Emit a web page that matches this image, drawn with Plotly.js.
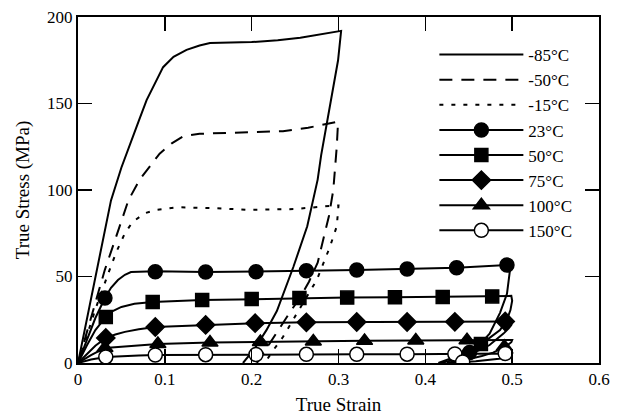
<!DOCTYPE html>
<html>
<head>
<meta charset="utf-8">
<script src="https://cdn.plot.ly/plotly-3.0.1.min.js"></script>
<style>html,body{margin:0;padding:0;background:#fff;}#chart{width:623px;height:418px;}</style>
</head>
<body>
<div id="chart"></div>
<script>
// Series labels
var seriesNames = ["-85°C", "-50°C", "-15°C", "23°C", "50°C", "75°C", "100°C", "150°C"];

// -85°C curve (loading + unloading)
var strainM85 = [0, 0.02, 0.038, 0.05, 0.06, 0.07, 0.079, 0.09, 0.098, 0.11, 0.125, 0.14, 0.152, 0.2, 0.23, 0.256, 0.28, 0.303,
                 0.2995, 0.29, 0.28, 0.276, 0.271, 0.264, 0.248, 0.229, 0.217, 0.203, 0.19];
var stressM85 = [0, 49, 94, 113, 127, 140, 152, 163, 171, 177, 181, 183.5, 185, 185.5, 186.5, 188, 190, 192,
                 175, 148, 120, 106, 94, 79, 55.5, 30, 19, 8, 0];

// -50°C curve
var strainM50 = [0, 0.031, 0.0426, 0.058, 0.071, 0.083, 0.094, 0.108, 0.121, 0.14, 0.179, 0.21, 0.236, 0.265, 0.2995,
                 0.298, 0.296, 0.294, 0.289, 0.283, 0.276, 0.266, 0.256, 0.245, 0.233, 0.22, 0.206];
var stressM50 = [0, 54, 71, 94, 106, 114, 121, 127, 131, 132.5, 133, 133.5, 134, 136, 139.5,
                 125, 110, 100, 85, 72, 58, 47, 38, 30, 21, 11, 0];

// -15°C curve
var strainM15 = [0, 0.02, 0.035, 0.044, 0.054, 0.063, 0.077, 0.089, 0.115, 0.153, 0.198, 0.25, 0.294, 0.3,
                 0.299, 0.298, 0.29, 0.275, 0.256, 0.236, 0.225, 0.215];
var stressM15 = [0, 31, 52, 64, 75, 81.6, 86.6, 88.4, 90, 89.6, 88.5, 89, 91, 91,
                 85, 79, 67, 48, 32, 15, 7.5, 0];

// 23°C curve and markers
var strain23 = [0, 0.01, 0.02, 0.031, 0.038, 0.046, 0.054, 0.061, 0.075, 0.089, 0.147, 0.205, 0.263, 0.321, 0.379, 0.436, 0.494,
                0.4975, 0.494, 0.486, 0.474, 0.459, 0.443, 0.428];
var stress23 = [0, 13, 26, 37.6, 43.5, 48, 51, 52.6, 53, 53, 52.6, 52.8, 53.3, 53.8, 54.3, 55, 56.6,
                53.8, 40, 29, 17, 8.7, 3.5, 0];
var markStrain23 = [0.031, 0.089, 0.147, 0.205, 0.263, 0.321, 0.379, 0.436, 0.494, 0.451];
var markStress23 = [37.6, 52.8, 52.6, 52.8, 53.3, 53.8, 54.3, 55, 56.6, 6.1];

// 50°C curve and markers
var strain50 = [0, 0.01, 0.02, 0.032, 0.04, 0.05, 0.065, 0.086, 0.143, 0.2, 0.255, 0.31, 0.365, 0.42, 0.477, 0.499,
                0.5, 0.498, 0.494, 0.486, 0.474, 0.459, 0.445, 0.432, 0.415];
var stress50 = [0, 10, 19, 26.6, 30, 32.4, 34.2, 35.3, 36.4, 37, 37.6, 37.8, 38, 38.2, 38.5, 38.8,
                36, 30.6, 25, 19, 14.5, 9.4, 5.5, 3, 0];
var markStrain50 = [0.032, 0.086, 0.143, 0.2, 0.255, 0.31, 0.365, 0.42, 0.477, 0.464];
var markStress50 = [26.6, 35.3, 36.4, 37, 37.6, 37.8, 38, 38.2, 38.5, 11];

// 75°C curve and markers
var strain75 = [0, 0.01, 0.02, 0.032, 0.043, 0.054, 0.07, 0.089, 0.147, 0.204, 0.263, 0.321, 0.379, 0.434, 0.492, 0.5,
                0.499, 0.496, 0.49, 0.482, 0.474, 0.465, 0.455, 0.443, 0.432, 0.418];
var stress75 = [0, 5, 10, 14.5, 16.5, 18, 19.5, 20.8, 22, 23, 23.5, 23.7, 23.7, 23.8, 24, 24,
                22, 20, 17, 13.5, 10.4, 8, 5.8, 3.5, 1.7, 0];
var markStrain75 = [0.032, 0.089, 0.147, 0.204, 0.263, 0.321, 0.379, 0.434, 0.492];
var markStress75 = [14.5, 20.8, 22, 23, 23.5, 23.7, 23.7, 23.8, 24];

// 100°C curve and markers
var strain100 = [0, 0.015, 0.031, 0.045, 0.058, 0.075, 0.092, 0.152, 0.21, 0.271, 0.33, 0.389, 0.448, 0.5,
                 0.499, 0.495, 0.488, 0.478, 0.465, 0.452, 0.44, 0.425];
var stress100 = [0, 4.5, 8.7, 9.2, 9.6, 10.3, 11, 11.8, 12.2, 12.5, 12.8, 13, 13.2, 13.3,
                 12, 10.5, 8.5, 6, 4, 2.3, 1, 0];
var markStrain100 = [0.031, 0.092, 0.152, 0.21, 0.271, 0.33, 0.389, 0.448, 0.491];
var markStress100 = [8.7, 11, 11.8, 12.2, 12.5, 12.8, 13, 13.2, 9.4];

// 150°C curve and markers
var strain150 = [0, 0.015, 0.032, 0.05, 0.07, 0.089, 0.147, 0.205, 0.263, 0.321, 0.379, 0.434, 0.492, 0.5,
                 0.499, 0.494, 0.485, 0.472, 0.458, 0.443, 0.43];
var stress150 = [0, 2, 3.5, 4, 4.3, 4.6, 4.8, 4.9, 5, 5, 5.1, 5.2, 5.5, 5.5,
                 4.5, 3.5, 2.5, 1.6, 1, 0.6, 0];
var markStrain150 = [0.032, 0.089, 0.147, 0.205, 0.263, 0.321, 0.379, 0.434, 0.492, 0.443];
var markStress150 = [3.5, 4.6, 4.8, 4.9, 5, 5, 5.1, 5.2, 5.5, 0.6];

var FONT = "Liberation Serif, Times New Roman, serif";

// Interleave nulls so the marker trace draws markers only (its line shows only in the legend)
function isolate(arr) {
  var out = [];
  arr.forEach(function(v, i) { if (i) out.push(null); out.push(v); });
  return out;
}

var traces = [];
traces.push({x: strainM85, y: stressM85, name: seriesNames[0], mode: 'lines',
  line: {color: 'black', width: 2}});
traces.push({x: strainM50, y: stressM50, name: seriesNames[1], mode: 'lines',
  line: {color: 'black', width: 2, dash: '13px,9px'}});
traces.push({x: strainM15, y: stressM15, name: seriesNames[2], mode: 'lines',
  line: {color: 'black', width: 2, dash: '4px,8px'}});

var markerSeries = [
  [strain23, stress23, markStrain23, markStress23, 'circle', 'black', 14],
  [strain50, stress50, markStrain50, markStress50, 'square', 'black', 13],
  [strain75, stress75, markStrain75, markStress75, 'diamond', 'black', 14],
  [strain100, stress100, markStrain100, markStress100, 'triangle-up', 'black', 14],
  [strain150, stress150, markStrain150, markStress150, 'circle', 'white', 14]
];
var markerTraces = [];
markerSeries.forEach(function(s, i) {
  traces.push({x: s[0], y: s[1], name: seriesNames[3 + i], mode: 'lines', showlegend: false,
    legendgroup: 'g' + i, line: {color: 'black', width: 2}});
  markerTraces.push({x: isolate(s[2]), y: isolate(s[3]), name: seriesNames[3 + i], mode: 'lines+markers',
    connectgaps: false, legendgroup: 'g' + i,
    line: {color: 'black', width: 2},
    marker: {symbol: s[4], color: s[5], size: s[6], opacity: 1, line: {color: 'black', width: 1.5}}});
});
traces = traces.concat(markerTraces);

var layout = {
  width: 623, height: 418,
  margin: {l: 78, r: 24, t: 17, b: 55, pad: 0},
  paper_bgcolor: 'white', plot_bgcolor: 'white',
  font: {family: FONT, size: 17, color: 'black'},
  showlegend: true,
  legend: {x: 0.684, y: 0.942, xanchor: 'left', yanchor: 'top', bgcolor: 'rgba(0,0,0,0)',
    borderwidth: 0, itemwidth: 84, font: {family: FONT, size: 17, color: 'black'},
    tracegroupgap: 0, traceorder: 'normal'},
  xaxis: {range: [0, 0.6], dtick: 0.1, tick0: 0, ticks: 'inside', ticklen: 14, tickwidth: 1.5,
    tickcolor: 'black', showline: true, linecolor: 'black', linewidth: 2, mirror: 'ticks',
    showgrid: false, zeroline: false, tickfont: {family: FONT, size: 17},
    title: {text: 'True Strain', font: {family: FONT, size: 19}, standoff: 9}},
  yaxis: {range: [0, 200], dtick: 50, tick0: 0, ticks: 'inside', ticklen: 14, tickwidth: 1.5,
    tickcolor: 'black', showline: true, linecolor: 'black', linewidth: 2, mirror: 'ticks',
    showgrid: false, zeroline: false, tickfont: {family: FONT, size: 17},
    title: {text: 'True Stress (MPa)', font: {family: FONT, size: 19}, standoff: 12}}
};

Plotly.newPlot('chart', traces, layout, {staticPlot: true, displayModeBar: false});
</script>
</body>
</html>
